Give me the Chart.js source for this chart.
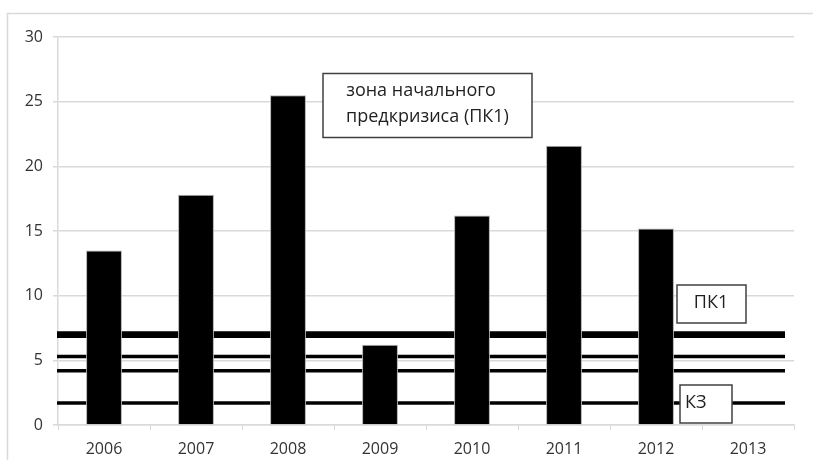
<!DOCTYPE html>
<html>
<head>
<meta charset="utf-8">
<script src="https://cdn.jsdelivr.net/npm/chart.js@4.4.0/dist/chart.umd.min.js"></script>
<style>
    html, body { margin: 0; padding: 0; background: #fff; }
    canvas { display: block; }
</style>
</head>
<body>
<canvas id="crisisChart" width="813" height="460"></canvas>
<script>
// ============================
// DATA
// ============================
const years = ["2006", "2007", "2008", "2009", "2010", "2011", "2012", "2013"];
const values = [13.5, 17.8, 25.5, 6.2, 16.2, 21.6, 15.2, null];
const yTicks = [0, 5, 10, 15, 20, 25, 30];

// threshold levels (horizontal lines)
const levels = [7.08, 6.88, 5.3, 4.2, 1.7];

// text boxes
const zoneText = ["зона начального", "предкризиса (ПК1)"];
const pk1Text = "ПК1";
const kzText = "КЗ";

const FONT = "'Open Sans', 'DejaVu Sans', sans-serif";
const GRID = "#d9d9d9";
const TEXT = "#333";

document.addEventListener("DOMContentLoaded", () => {

    // outer frame of the chart
    const framePlugin = {
        id: "frame",
        beforeDraw(chart) {
            const ctx = chart.ctx;
            ctx.save();
            ctx.fillStyle = "#fff";
            ctx.fillRect(0, 0, chart.width, chart.height);
            ctx.strokeStyle = GRID;
            ctx.lineWidth = 1.5;
            ctx.strokeRect(7.5, 13.5, chart.width, chart.height);
            ctx.restore();
        }
    };

    // horizontal threshold lines, drawn under the bars
    const levelsPlugin = {
        id: "levels",
        beforeDatasetsDraw(chart) {
            const ctx = chart.ctx;
            const y = chart.scales.y;
            const area = chart.chartArea;
            ctx.save();
            ctx.strokeStyle = "#000";
            levels.forEach((v, i) => {
                const py = y.getPixelForValue(v);
                ctx.lineWidth = i < 2 ? 4.2 : 3.4;
                ctx.beginPath();
                ctx.moveTo(area.left - 1, py);
                ctx.lineTo(area.right - 9, py);
                ctx.stroke();
            });
            ctx.restore();
        }
    };

    // text boxes on top
    function box(ctx, x, y, w, h) {
        ctx.fillStyle = "#fff";
        ctx.fillRect(x, y, w, h);
        ctx.strokeStyle = "#404040";
        ctx.lineWidth = 1.5;
        ctx.strokeRect(x, y, w, h);
        ctx.fillStyle = "#1f1f1f";
    }

    const notesPlugin = {
        id: "notes",
        afterDatasetsDraw(chart) {
            const ctx = chart.ctx;
            ctx.save();
            ctx.font = "18px " + FONT;
            ctx.textBaseline = "middle";

            // zone box
            box(ctx, 323, 73.5, 209, 64);
            ctx.textAlign = "center";
            ctx.fillText(zoneText[0], 421, 91);
            ctx.fillText(zoneText[1], 427.5, 117);

            // ПК1 box
            box(ctx, 677, 285, 69, 38);
            ctx.fillText(pk1Text, 711, 303);

            // КЗ box
            box(ctx, 680, 385, 52, 38);
            ctx.textAlign = "left";
            ctx.fillText(kzText, 685, 403);

            ctx.restore();
        }
    };

    new Chart(document.getElementById("crisisChart"), {
        type: "bar",
        data: {
            labels: years,
            datasets: [{
                data: values,
                backgroundColor: "#000",
                borderColor: "#b0b0b0",
                borderWidth: 1,
                categoryPercentage: 1,
                barPercentage: 0.39
            }]
        },
        options: {
            responsive: false,
            animation: false,
            layout: { padding: { top: 37, right: 19, left: 0, bottom: 0 } },
            plugins: {
                legend: { display: false },
                tooltip: { enabled: false }
            },
            scales: {
                x: {
                    offset: true,
                    grid: {
                        offset: true,
                        drawOnChartArea: false,
                        color: GRID,
                        tickLength: 5
                    },
                    border: { color: GRID, width: 1.5 },
                    ticks: {
                        color: TEXT,
                        font: { family: FONT, size: 16 },
                        padding: 10
                    },
                    afterFit(scale) { scale.height = 35; }
                },
                y: {
                    min: 0,
                    max: 30,
                    afterBuildTicks(scale) {
                        scale.ticks = yTicks.map(v => ({ value: v }));
                    },
                    grid: { color: GRID, lineWidth: 1.5, tickLength: 5 },
                    border: { color: GRID, width: 1.5 },
                    ticks: {
                        color: TEXT,
                        font: { family: FONT, size: 16 },
                        padding: 10
                    },
                    afterFit(scale) { scale.width = 58; }
                }
            }
        },
        plugins: [framePlugin, levelsPlugin, notesPlugin]
    });

});
</script>
</body>
</html>
